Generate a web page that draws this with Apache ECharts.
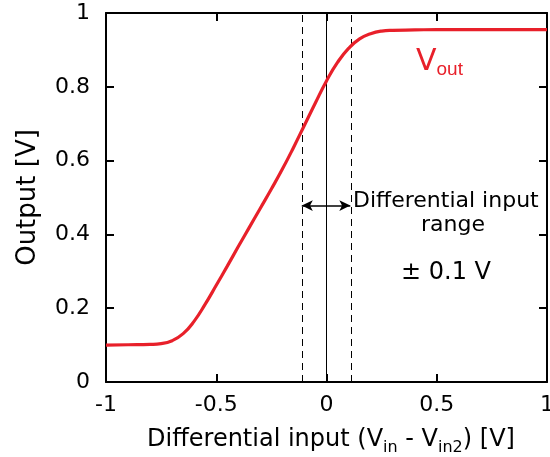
<!DOCTYPE html>
<html>
<head>
<meta charset="utf-8">
<script src="https://cdn.jsdelivr.net/npm/echarts@6/dist/echarts.min.js"></script>
<style>
  html, body { margin: 0; padding: 0; background: #fff; }
  #chart { width: 550px; height: 457px; }
</style>
</head>
<body>
<div id="chart"></div>
<script>
// transfer curve
const inputV = [-1, -0.9, -0.8, -0.75, -0.7, -0.65, -0.6, -0.55, -0.5, -0.45, -0.4, -0.35, -0.3,
  -0.25, -0.2, -0.15, -0.1, -0.05, 0, 0.05, 0.1, 0.15, 0.2, 0.25, 0.3, 0.4, 0.5, 0.7, 1.0]
const outputV = [0.100, 0.101, 0.102, 0.104, 0.112, 0.131, 0.165, 0.211, 0.262, 0.314, 0.367, 0.419, 0.471,
  0.523, 0.577, 0.635, 0.696, 0.757, 0.816, 0.866, 0.904, 0.930, 0.944, 0.951, 0.953, 0.954, 0.955, 0.955, 0.955]

// input range markers
const rangeLow = -0.112
const rangeHigh = 0.108
const arrowLevel = 0.478

const xTicks = [-1, -0.5, 0, 0.5, 1]

const font = 'DejaVu Sans'
const black = '#000'
const red = '#e8202a'

let myChart = echarts.init(document.getElementById('chart'), null, { renderer: 'canvas' })

const frameAxis = {
  axisLine: { show: true, onZero: false, lineStyle: { color: black, width: 2 } },
  axisTick: { show: true, inside: true, length: 8, lineStyle: { color: black, width: 2 } },
  splitLine: { show: false }
}

let option = {
  animation: false,
  grid: { left: 106, right: 3, top: 13, bottom: 75, outerBoundsMode: 'none', containLabel: false },
  xAxis: [
    {
      type: 'value',
      min: -1, max: 1, interval: 0.5,
      ...frameAxis,
      axisLabel: { color: black, fontSize: 22, fontFamily: font, margin: 12,
        formatter: v => xTicks.includes(v) ? String(v) : '' },
      name: '{a|Differential input (V}{s|in}{a| - V}{s|in2}{a|) [V]}',
      nameLocation: 'middle',
      nameGap: 42,
      nameTextStyle: {
        fontFamily: font,
        padding: [0, 0, 0, 9],
        rich: {
          a: { fontSize: 24, fontFamily: font, color: black, lineHeight: 32, verticalAlign: 'middle' },
          s: { fontSize: 16, fontFamily: font, color: black, lineHeight: 16, verticalAlign: 'bottom' }
        }
      }
    },
    {
      type: 'value', position: 'top',
      min: -1, max: 1, interval: 0.5,
      ...frameAxis,
      axisLabel: { show: false }
    }
  ],
  yAxis: [
    {
      type: 'value',
      min: 0, max: 1, interval: 0.2,
      ...frameAxis,
      axisLabel: { color: black, fontSize: 22, fontFamily: font, margin: 16,
        formatter: v => String(Math.round(v * 10) / 10) },
      name: 'Output [V]',
      nameLocation: 'middle',
      nameGap: 65,
      nameTextStyle: { color: black, fontSize: 26, fontFamily: font }
    },
    {
      type: 'value', position: 'right',
      min: 0, max: 1, interval: 0.2,
      ...frameAxis,
      axisLabel: { show: false }
    }
  ],
  series: [
    {
      type: 'line',
      data: inputV.map((x, i) => [x, outputV[i]]),
      smooth: 0.5,
      showSymbol: false,
      lineStyle: { color: red, width: 3.2 },
      z: 5,
      markLine: {
        silent: true,
        symbol: 'none',
        label: { show: false },
        lineStyle: { color: black, width: 1 },
        data: [
          { xAxis: rangeLow, lineStyle: { type: [7, 5], color: black } },
          { xAxis: 0, lineStyle: { type: 'solid', color: black } },
          { xAxis: rangeHigh, lineStyle: { type: [7, 5], color: black } },
          [
            { coord: [rangeLow, arrowLevel], symbol: 'arrow', symbolSize: [8, 11], lineStyle: { type: 'solid', width: 1.5 } },
            { coord: [rangeHigh, arrowLevel], symbol: 'arrow', symbolSize: [8, 11] }
          ]
        ]
      }
    }
  ],
  graphic: [
    { type: 'text', left: 353, top: 190, style: { text: 'Differential input', fontSize: 22, fontFamily: font, fill: black } },
    { type: 'text', left: 421, top: 214, style: { text: 'range', fontSize: 22, fontFamily: font, fill: black } },
    { type: 'text', left: 401, top: 261, style: { text: '± 0.1 V', fontSize: 24, fontFamily: font, fill: black } },
    {
      type: 'text', left: 416, top: 47,
      style: {
        text: '{v|V}{s|out}',
        rich: {
          v: { fontSize: 30, fontFamily: font, fill: red, lineHeight: 34, verticalAlign: 'middle' },
          s: { fontSize: 19, fontFamily: 'Liberation Sans', fill: red, lineHeight: 18, verticalAlign: 'bottom' }
        }
      }
    }
  ]
}
myChart.setOption(option)
</script>
</body>
</html>
